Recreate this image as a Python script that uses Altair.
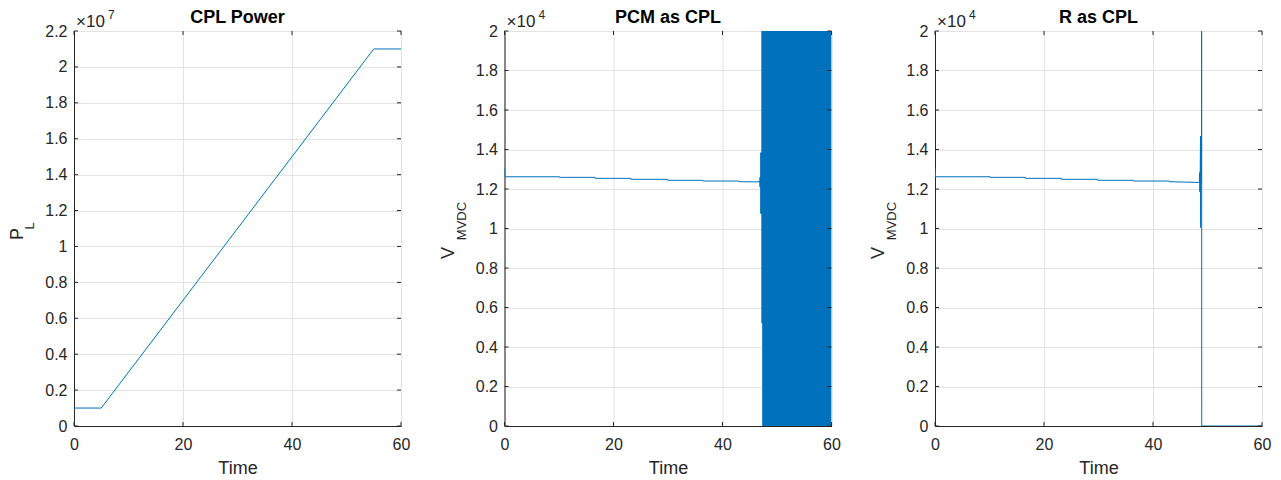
import altair as alt
import pandas as pd

W, H = 327, 395
FONT = "Liberation Sans"
DARK = "#262626"
BLUE = "#0072BD"
GRID = "#e3e3e3"

# ---------------- data ----------------
x_ticks = [0, 20, 40, 60]
p_ticks = [0, 2e6, 4e6, 6e6, 8e6, 1e7, 1.2e7, 1.4e7, 1.6e7, 1.8e7, 2e7, 2.2e7]
v_ticks = [0, 2000, 4000, 6000, 8000, 10000, 12000, 14000, 16000, 18000, 20000]

# CPL power
p_t = [0, 5, 55, 60]
p_val = [1.0e6, 1.0e6, 2.1e7, 2.1e7]

# common pre-instability MVDC voltage
v_t_pre = [0, 0.1, 10.1, 10.1, 16.6, 16.6, 23.2, 23.2, 29.9, 29.9, 36.4, 36.4, 43.0, 43.0]
v_pre = [13050, 12620, 12620, 12590, 12590, 12540, 12540, 12490, 12490, 12440, 12440, 12405, 12405, 12370]

# PCM as CPL
pcm_t = v_t_pre + [46.6]
pcm_v = v_pre + [12360]
env_t = [46.55, 46.75, 46.90, 47.12, 47.28, 60]
env_hi = [12400, 12600, 13850, 20000, 20000, 20000]
env_lo = [12340, 12100, 10750, 5200, 0, 0]

# R as CPL
r_t = v_t_pre + [48.35, 48.50, 48.55, 48.60, 48.65, 48.72, 48.73, 48.80, 48.90, 48.93, 48.94, 60]
r_v = v_pre + [12330, 12350, 12830, 11860, 12500, 14680, 10050, 12300, 12300, 60000, 0, 0]


def label_layer(text, x, y, size, align="left", baseline="alphabetic", angle=0,
                weight="normal", color=DARK):
    return alt.Chart(pd.DataFrame({"a": [0]})).mark_text(
        font=FONT, fontSize=size, fontWeight=weight, color=color,
        align=align, baseline=baseline, angle=angle,
    ).encode(x=alt.value(x), y=alt.value(y), text=alt.value(text))


def panel(df, ydomain, yticks, exp, title, ymain, ysub, label_expr, extra=None):
    xs = alt.Scale(domain=[0, 60], nice=False, zero=False)
    ys = alt.Scale(domain=ydomain, nice=False, zero=False)
    xaxis = alt.Axis(values=x_ticks, grid=True, gridColor=GRID, domain=True,
                     domainColor=DARK, tickSize=0, labelFont=FONT, labelFontSize=16,
                     labelColor=DARK, labelPadding=10, title="Time", titleFont=FONT,
                     titleFontSize=18, titleFontWeight="normal", titleColor=DARK,
                     titlePadding=7, labelFlush=False)
    yaxis = alt.Axis(values=yticks, grid=True, gridColor=GRID, domain=True,
                     domainColor=DARK, tickSize=0, labelFont=FONT, labelFontSize=16,
                     labelColor=DARK, labelPadding=7, title=None, labelExpr=label_expr,
                     labelFlush=False)
    line = alt.Chart(df).mark_line(color=BLUE, strokeWidth=1, clip=True).encode(
        x=alt.X("t:Q", scale=xs, axis=xaxis),
        y=alt.Y("v:Q", scale=ys, axis=yaxis),
        order="i:Q",
    )
    layers = [line]
    if extra is not None:
        layers.append(extra.encode(
            x=alt.X("t:Q", scale=xs, axis=xaxis),
            y=alt.Y("lo:Q", scale=ys, axis=yaxis),
            y2="hi:Q",
        ))
    ydf = pd.DataFrame({"v": yticks})
    xdf = pd.DataFrame({"t": x_ticks})
    tick = dict(color=DARK, strokeWidth=1)
    layers += [
        alt.Chart(ydf).mark_rule(**tick).encode(y=alt.Y("v:Q", scale=ys, axis=yaxis),
                                                 x=alt.value(0), x2=alt.value(4)),
        alt.Chart(ydf).mark_rule(**tick).encode(y=alt.Y("v:Q", scale=ys, axis=yaxis),
                                                 x=alt.value(W - 4), x2=alt.value(W)),
        alt.Chart(xdf).mark_rule(**tick).encode(x=alt.X("t:Q", scale=xs, axis=xaxis),
                                                 y=alt.value(H - 4), y2=alt.value(H)),
        alt.Chart(xdf).mark_rule(**tick).encode(x=alt.X("t:Q", scale=xs, axis=xaxis),
                                                 y=alt.value(0), y2=alt.value(4)),
        label_layer(title, W / 2, -8, 18, align="center", weight="bold", color="black"),
        label_layer("\u00d710", 2, -4, 17),
        label_layer(exp, 34, -12, 12),
        label_layer(ymain[0], ymain[1], ymain[2], 18, align="center", baseline="middle", angle=270),
        label_layer(ysub[0], ysub[1], ysub[2], 13, align="center", baseline="middle", angle=270),
    ]
    return alt.layer(*layers).properties(width=W, height=H)


df1 = pd.DataFrame({"t": p_t, "v": p_val, "i": list(range(len(p_t)))})
df2 = pd.DataFrame({"t": pcm_t, "v": pcm_v, "i": list(range(len(pcm_t)))})
df3 = pd.DataFrame({"t": r_t, "v": r_v, "i": list(range(len(r_t)))})
env = pd.DataFrame({"t": env_t, "hi": env_hi, "lo": env_lo})

area = alt.Chart(env).mark_area(color=BLUE, opacity=1, interpolate="step-after", clip=True)

c1 = panel(df1, [0, 2.2e7], p_ticks, "7", "CPL Power",
           ("P", -56, 203), ("L", -44, 195), "format(datum.value / 1e7, '.1~f')")
c2 = panel(df2, [0, 20000], v_ticks, "4", "PCM as CPL",
           ("V", -56, 222), ("MVDC", -43, 190), "format(datum.value / 1e4, '.1~f')",
           extra=area)
c3 = panel(df3, [0, 20000], v_ticks, "4", "R as CPL",
           ("V", -56, 222), ("MVDC", -43, 190), "format(datum.value / 1e4, '.1~f')")

chart = alt.hconcat(c1, c2, c3, spacing=103.5, bounds="flush").properties(
    padding={"left": 0, "top": 0, "right": 0, "bottom": 0}
).configure_view(stroke="#8c8c8c", strokeWidth=1).configure(background="white")

chart.save("out.html", embed_options={"renderer": "svg", "actions": False})
